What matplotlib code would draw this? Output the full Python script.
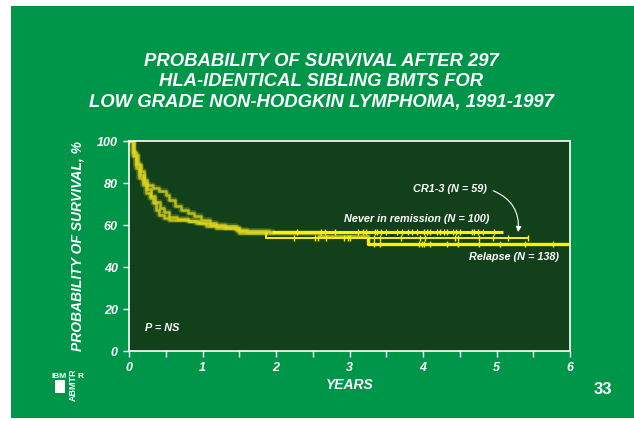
import matplotlib
matplotlib.use("Agg")
import matplotlib.pyplot as plt
from matplotlib.patches import Rectangle

plt.rcParams['font.family'] = ['Liberation Sans', 'DejaVu Sans']

# curve data (years, survival %)
# early part of each curve is drawn blurred, the later part sharp
never_t_blur = [0, 0.03, 0.07, 0.12, 0.16, 0.21, 0.25, 0.32, 0.41, 0.50, 0.55, 0.62,
                0.71, 0.80, 0.89, 0.98, 1.10, 1.19, 1.45, 1.60, 1.95]
never_s_blur = [100, 100, 93.5, 88.7, 85.6, 81.6, 79.2, 77.6, 76.0, 74.4, 72.0, 68.9,
                67.3, 65.7, 64.1, 62.5, 61.0, 59.4, 57.6, 56.8, 56.8]
never_t = [1.95, 5.09]
never_s = [56.8, 56.8]
never_cens = [2.29, 2.61, 2.66, 2.80, 3.11, 3.18, 3.23, 3.35, 3.37, 3.43, 3.50, 3.65,
              3.72, 3.79, 3.85, 3.92, 4.01, 4.05, 4.10, 4.19, 4.23, 4.28, 4.33, 4.41,
              4.45, 4.51, 4.67, 4.70, 4.75, 4.82, 4.97]

cr_t_blur = [0, 0.03, 0.06, 0.10, 0.15, 0.20, 0.25, 0.30, 0.36, 0.42, 0.48, 0.55,
             0.65, 0.80, 0.95, 1.10, 1.30, 1.50, 1.86]
cr_s_blur = [100, 100, 95, 89, 84, 80, 77, 74, 71, 68, 66, 64,
             63, 62, 61, 60, 58.4, 56.0, 56.0]
cr_t = [1.86, 1.86, 5.44]
cr_s = [56.0, 53.7, 53.7]
cr_cens = [2.24, 2.53, 2.57, 2.68, 2.92, 2.98, 3.01, 3.34, 3.41, 3.70, 3.96, 4.03,
           4.44, 4.47, 4.76, 4.95, 5.16, 5.43]

rel_t_blur = [0, 0.03, 0.06, 0.095, 0.14, 0.19, 0.23, 0.28, 0.32, 0.37, 0.41, 0.48,
              0.55, 0.82, 0.91, 1.05, 1.19, 1.50, 1.90, 2.60, 3.25]
rel_s_blur = [100, 100, 93, 87.1, 82.4, 79.2, 75.2, 72.9, 70.5, 67.3, 64.9, 63.3,
              62.5, 61.7, 61.0, 59.4, 58.6, 57.0, 56.0, 55.0, 55.0]
rel_t = [3.25, 3.25, 6.0]
rel_s = [54.5, 51.0, 51.0]
rel_cens = [3.33, 3.41, 3.95, 3.98, 4.02, 4.10, 4.32, 4.48, 4.76, 5.05, 5.39, 5.77]

x_ticks = [0, 1, 2, 3, 4, 5, 6]
y_ticks = [0, 20, 40, 60, 80, 100]

title = ("PROBABILITY OF SURVIVAL AFTER 297\n"
         "HLA-IDENTICAL SIBLING BMTS FOR\n"
         "LOW GRADE NON-HODGKIN LYMPHOMA, 1991-1997")

green = "#00964a"
dark = "#12401b"
yellow = "#fff200"
glow = "#e0d81e"

fig = plt.figure(figsize=(6.34, 4.21), dpi=100, facecolor="white")
fig.patches.append(Rectangle((11 / 634, 3 / 421), 1, 412 / 421, transform=fig.transFigure,
                             facecolor=green, edgecolor="none", zorder=-10))

ax = fig.add_axes([129 / 634, 1 - 351 / 421, 441 / 634, 210 / 421])
ax.set_facecolor(dark)
for sp in ax.spines.values():
    sp.set_color("white")
    sp.set_linewidth(1.2)

# blurred early parts
for tb, sb in [(never_t_blur, never_s_blur), (cr_t_blur, cr_s_blur), (rel_t_blur, rel_s_blur)]:
    ax.plot(tb, sb, drawstyle="steps-post", color=glow, lw=4, alpha=0.25)
    ax.plot(tb, sb, drawstyle="steps-post", color=glow, lw=1.8, alpha=0.75)

# sharp parts
ax.plot(never_t, never_s, color=yellow, lw=2.2, solid_capstyle="butt")
ax.plot(cr_t, cr_s, color=yellow, lw=1.4, solid_capstyle="butt")
ax.plot(rel_t, rel_s, color=yellow, lw=2.4, solid_capstyle="butt", clip_on=False)
ax.plot(never_cens, [never_s[0]] * len(never_cens), ls="none", marker="|", ms=5, mew=1, color=yellow)
ax.plot(cr_cens, [cr_s[-1]] * len(cr_cens), ls="none", marker="|", ms=5, mew=1, color=yellow)
ax.plot(rel_cens, [rel_s[-1]] * len(rel_cens), ls="none", marker="|", ms=5, mew=1, color=yellow)

ax.set_xlim(0, 6)
ax.set_ylim(0, 100)
ax.set_xticks(x_ticks)
ax.set_xticks([0.5, 1.5, 2.5, 3.5, 4.5, 5.5], minor=True)
ax.set_yticks(y_ticks)
ax.tick_params(colors="white", length=4, width=1, direction="out", pad=4)
ax.tick_params(which="minor", colors="white", length=4, width=1, direction="out")
for lab in ax.get_xticklabels() + ax.get_yticklabels():
    lab.set_fontsize(9)
    lab.set_fontweight("bold")
    lab.set_fontstyle("italic")
    lab.set_color("white")

ax.set_xlabel("YEARS", color="white", fontsize=10, fontweight="bold", fontstyle="italic", labelpad=3)
ax.set_ylabel("PROBABILITY OF SURVIVAL, %", color="white", fontsize=10,
              fontweight="bold", fontstyle="italic", labelpad=9)

txt = dict(color="white", fontsize=7.8, fontweight="bold", fontstyle="italic")
ax.text(0.22, 11, "P = NS", ha="left", va="center", **txt)
ax.text(4.87, 77, "CR1-3 (N = 59)", ha="right", va="center", **txt)
ax.text(2.92, 62.9, "Never in remission (N = 100)", ha="left", va="center", **txt)
ax.text(5.85, 44.6, "Relapse (N = 138)", ha="right", va="center", **txt)
ax.annotate("", xy=(5.29, 55.3), xytext=(4.92, 76.8),
            arrowprops=dict(arrowstyle="-|>", color="white", lw=0.8, mutation_scale=8,
                            connectionstyle="arc3,rad=-0.4"))

fig.text(0.507, 1 - 82 / 421, title, ha="center", va="center", color="white",
         fontsize=13.3, fontweight="bold", fontstyle="italic", linespacing=1.3)

# logo and slide number
fig.text(52 / 634, 1 - 376 / 421, "IBM", color="white", fontsize=6, fontweight="bold",
         ha="left", va="center")
fig.text(77 / 634, 1 - 376 / 421, "R", color="white", fontsize=6, fontweight="bold",
         ha="left", va="center")
fig.patches.append(Rectangle((55 / 634, 1 - 393 / 421), 10 / 634, 13 / 421,
                             transform=fig.transFigure, facecolor="white", edgecolor="none"))
fig.text(73.5 / 634, 1 - 385 / 421, "ABMTR", color="white", fontsize=6.5, fontweight="bold",
         rotation=90, ha="center", va="center")
fig.text(603 / 634, 1 - 390 / 421, "33", color="white", fontsize=12, fontweight="bold",
         ha="center", va="center")

fig.savefig("out.png", dpi=100, facecolor=fig.get_facecolor())
